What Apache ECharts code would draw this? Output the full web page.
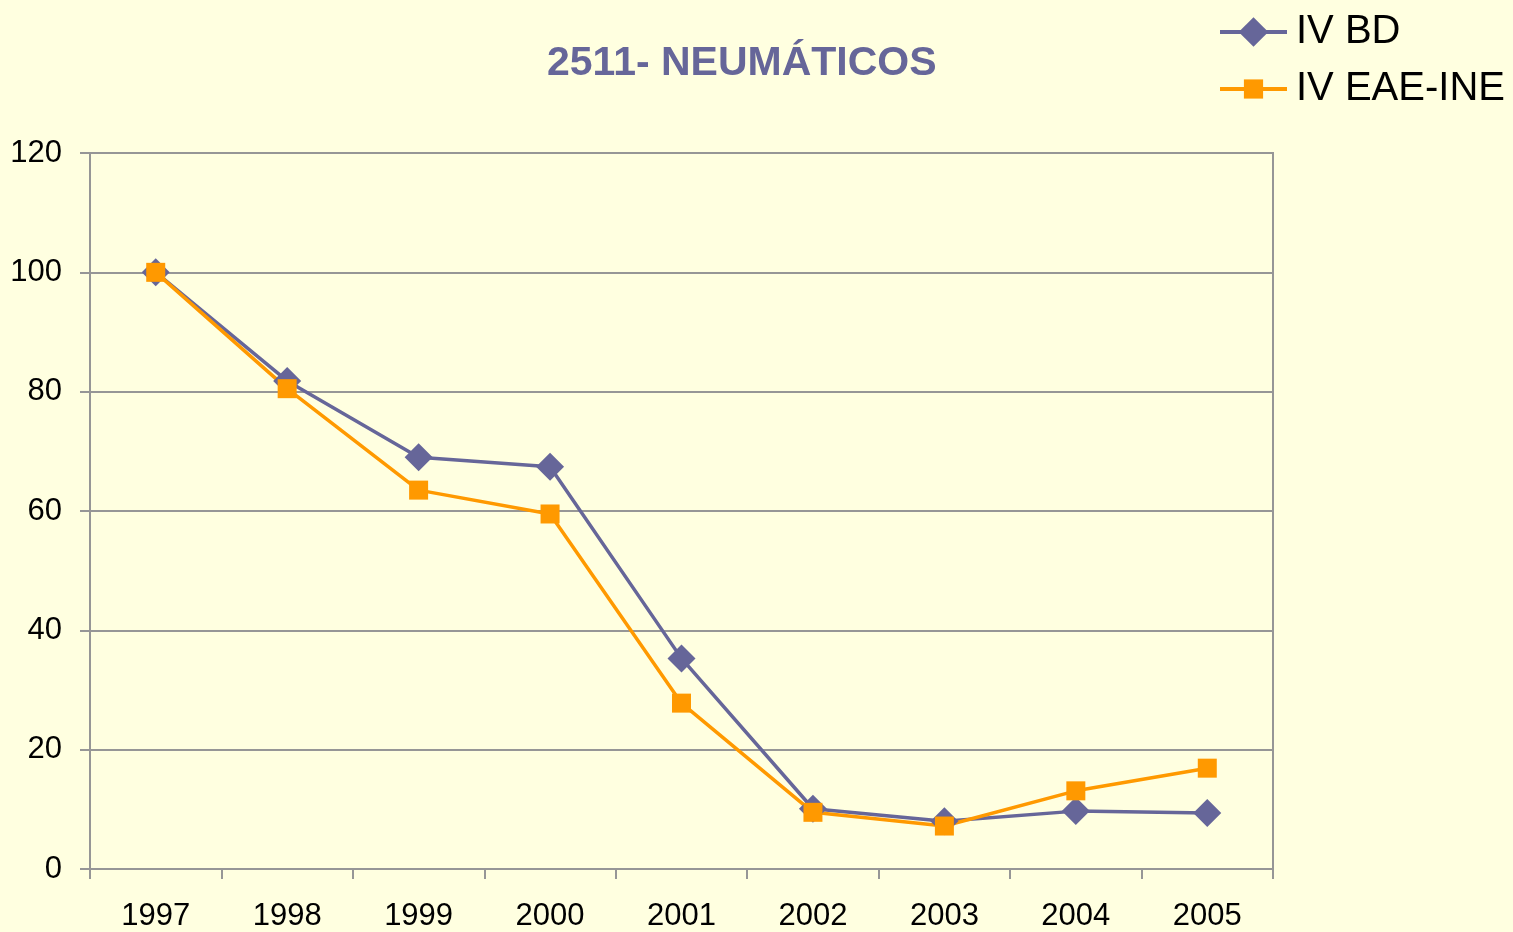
<!DOCTYPE html>
<html>
<head>
<meta charset="utf-8">
<script src="https://cdn.jsdelivr.net/npm/echarts@6/dist/echarts.min.js"></script>
<style>
html,body{margin:0;padding:0;background:#FFFFE0;}
#chart{width:1513px;height:932px;}
</style>
</head>
<body>
<div id="chart"></div>
<script>
const categories = ['1997','1998','1999','2000','2001','2002','2003','2004','2005'];
const ivBD = [100, 81.8, 69.0, 67.4, 35.3, 10.1, 8.0, 9.7, 9.4];
const ivEAE = [100, 80.5, 63.5, 59.5, 27.8, 9.5, 7.2, 13.1, 16.9];
const yTicks = { min: 0, max: 120, interval: 20 };

const FONT = '"Liberation Sans", Arial, sans-serif';
const GRAY = '#969696';

const chart = echarts.init(document.getElementById('chart'));
chart.setOption({
  backgroundColor: '#FFFFE0',
  animation: false,
  title: {
    text: '2511- NEUMÁTICOS',
    left: 542,
    top: 38,
    textStyle: { color: '#666699', fontWeight: 'bold', fontSize: 41, fontFamily: FONT }
  },
  legend: [
    {
      data: ['IV BD'],
      left: 1213,
      top: 7,
      itemWidth: 67,
      itemHeight: 37,
      lineStyle: { width: 4 },
      textStyle: { fontSize: 40, color: '#000', fontFamily: FONT, padding: [0, 0, 0, 4] }
    },
    {
      data: ['IV EAE-INE'],
      left: 1213,
      top: 64,
      itemWidth: 67,
      itemHeight: 24,
      lineStyle: { width: 4 },
      textStyle: { fontSize: 40, color: '#000', fontFamily: FONT, padding: [0, 0, 0, 4] }
    }
  ],
  grid: {
    left: 90, right: 240, top: 153, bottom: 63,
    show: true, borderColor: GRAY, borderWidth: 2, backgroundColor: 'transparent'
  },
  xAxis: {
    type: 'category',
    data: categories,
    boundaryGap: true,
    axisLine: { lineStyle: { color: GRAY, width: 2 } },
    axisTick: { show: true, length: 10, lineStyle: { color: GRAY, width: 2 } },
    axisLabel: { fontSize: 31, color: '#000', fontFamily: FONT, margin: 32 },
    splitLine: { show: false }
  },
  yAxis: {
    type: 'value',
    min: yTicks.min, max: yTicks.max, interval: yTicks.interval,
    axisLine: { show: true, lineStyle: { color: GRAY, width: 2 } },
    axisTick: { show: true, length: 10, lineStyle: { color: GRAY, width: 2 } },
    axisLabel: { fontSize: 31, color: '#000', fontFamily: FONT, margin: 28 },
    splitLine: { show: true, lineStyle: { color: GRAY, width: 2 } }
  },
  series: [
    {
      name: 'IV BD',
      type: 'line',
      data: ivBD,
      symbol: 'diamond',
      symbolSize: 28,
      itemStyle: { color: '#666699' },
      lineStyle: { color: '#666699', width: 3.5 }
    },
    {
      name: 'IV EAE-INE',
      type: 'line',
      data: ivEAE,
      symbol: 'rect',
      symbolSize: 19,
      itemStyle: { color: '#FF9900' },
      lineStyle: { color: '#FF9900', width: 3.5 }
    }
  ]
});
</script>
</body>
</html>
